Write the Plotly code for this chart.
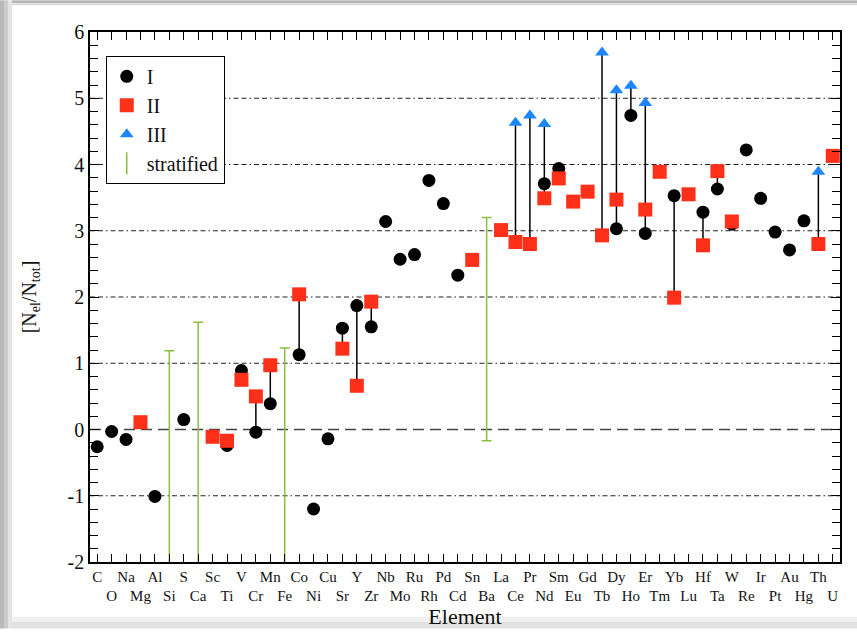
import plotly.graph_objects as go

ELEMENTS = ["C", "O", "Na", "Mg", "Al", "Si", "S", "Ca", "Sc", "Ti", "V", "Cr", "Mn", "Fe",
            "Co", "Ni", "Cu", "Sr", "Y", "Zr", "Nb", "Mo", "Ru", "Rh", "Pd", "Cd", "Sn", "Ba",
            "La", "Ce", "Pr", "Nd", "Sm", "Eu", "Gd", "Tb", "Dy", "Ho", "Er", "Tm", "Yb", "Lu",
            "Hf", "Ta", "W", "Re", "Ir", "Pt", "Au", "Hg", "Th", "U"]

N = None
ION_I = [-0.26, -0.03, -0.15, N, -1.01, N, 0.15, N, N, -0.24, 0.89, -0.04, 0.39, N,
         1.13, -1.20, -0.14, 1.53, 1.87, 1.55, 3.14, 2.57, 2.64, 3.76, 3.41, 2.33, N, N,
         N, N, N, 3.71, 3.94, N, N, N, 3.03, 4.74, 2.96, N, 3.53, N,
         3.28, 3.63, 3.10, 4.22, 3.49, 2.98, 2.71, 3.15, N, N]
ION_II = [N, N, N, 0.11, N, N, N, N, -0.11, -0.17, 0.75, 0.50, 0.97, N,
          2.04, N, N, 1.22, 0.66, 1.93, N, N, N, N, N, N, 2.56, N,
          3.01, 2.83, 2.80, 3.49, 3.79, 3.44, 3.59, 2.93, 3.47, N, 3.32, 3.89, 1.99, 3.55,
          2.78, 3.90, 3.14, N, N, N, N, N, 2.80, 4.13]
ION_III = [N, N, N, N, N, N, N, N, N, N, N, N, N, N,
           N, N, N, N, N, N, N, N, N, N, N, N, N, N,
           N, 4.63, 4.74, 4.61, N, N, N, 5.69, 5.12, 5.19, 4.93, N, N, N,
           N, N, N, N, N, N, N, N, 3.89, N]

STRAT_ELEMENTS = ["Si", "Ca", "Fe", "Ba"]
STRAT_TOP = [1.19, 1.62, 1.23, 3.20]
STRAT_BOTTOM = [-3.0, -3.0, -3.0, -0.17]

GRID_LEVELS = [-1, 1, 2, 3, 4, 5]
Y_TICKS = [-2, -1, 0, 1, 2, 3, 4, 5, 6]

SERIF = "Liberation Serif, Times New Roman, serif"
RED = "#FF3019"
BLUE = "#1C86FF"
GREEN = "#8CBF3F"

pos = list(range(1, len(ELEMENTS) + 1))
ticktext = [el if i % 2 == 0 else "<br>" + el for i, el in enumerate(ELEMENTS)]

# connectors between ionisation stages of the same element
cx, cy = [], []
for i, x in enumerate(pos):
    vals = [v for v in (ION_I[i], ION_II[i], ION_III[i]) if v is not None]
    if len(vals) > 1:
        cx += [x, x, None]
        cy += [min(vals), max(vals), None]

fig = go.Figure()
fig.add_trace(go.Scatter(x=cx, y=cy, mode="lines", line=dict(color="black", width=1.5),
                         showlegend=False, hoverinfo="skip"))

sx = [pos[ELEMENTS.index(e)] for e in STRAT_ELEMENTS]
fig.add_trace(go.Scatter(
    x=sx, y=STRAT_TOP, mode="markers", marker=dict(opacity=0, size=1),
    error_y=dict(type="data", symmetric=False, array=[0] * len(sx),
                 arrayminus=[t - b for t, b in zip(STRAT_TOP, STRAT_BOTTOM)],
                 color=GREEN, thickness=1.5, width=5),
    showlegend=False, legendgroup="strat"))

fig.add_trace(go.Scatter(x=pos, y=ION_I, mode="markers", name="I",
                         marker=dict(symbol="circle", size=13, color="black")))
fig.add_trace(go.Scatter(x=pos, y=ION_II, mode="markers", name="II",
                         marker=dict(symbol="square", size=14, color=RED)))
fig.add_trace(go.Scatter(x=pos, y=ION_III, mode="markers", name="III",
                         marker=dict(symbol="triangle-up", size=12, color=BLUE)))
fig.add_trace(go.Scatter(x=[None], y=[None], mode="markers", name="stratified",
                         legendgroup="strat",
                         marker=dict(symbol="line-ns", size=16, color=GREEN,
                                     line=dict(color=GREEN, width=1.5))))

shapes = []
# page shadow frame
def pxr(px):
    return (px - 90) / 750
def pyr(py):
    return (565 - py) / 533
for (x0, x1, col) in [(0, 4, "#b8b8b8"), (4, 8, "#cccccc"), (8, 12, "#e4e4e4")]:
    shapes.append(dict(type="rect", xref="paper", yref="paper", x0=pxr(x0), x1=pxr(x1),
                       y0=pyr(632), y1=pyr(0), fillcolor=col, line=dict(width=0), layer="below"))
for (y0, y1, col) in [(0, 3, "#b8b8b8"), (3, 5, "#dcdcdc")]:
    shapes.append(dict(type="rect", xref="paper", yref="paper", x0=pxr(12), x1=pxr(857),
                       y0=pyr(y1), y1=pyr(y0), fillcolor=col, line=dict(width=0), layer="below"))
for (y0, y1, col) in [(620, 625, "#f0f0f0"), (625, 632, "#e2e2e2")]:
    shapes.append(dict(type="rect", xref="paper", yref="paper", x0=pxr(12), x1=pxr(857),
                       y0=pyr(y1), y1=pyr(y0), fillcolor=col, line=dict(width=0), layer="below"))

for g in GRID_LEVELS:
    shapes.append(dict(type="line", xref="paper", yref="y", x0=0, x1=1, y0=g, y1=g,
                       line=dict(color="#222222", width=1, dash="5px,3px,5px,3px,1.5px,3px"),
                       layer="below"))
shapes.append(dict(type="line", xref="paper", yref="y", x0=0, x1=1, y0=0, y1=0,
                   line=dict(color="#444444", width=1.5, dash="11px,6px"), layer="below"))

fig.update_layout(
    width=857, height=632,
    margin=dict(l=90, r=17, t=32, b=67),
    paper_bgcolor="white", plot_bgcolor="white",
    shapes=shapes,
    font=dict(family=SERIF, color="#111111"),
    legend=dict(x=0.021, y=0.955, xanchor="left", yanchor="top",
                bordercolor="black", borderwidth=1, bgcolor="white",
                font=dict(family=SERIF, size=20, color="#111111"),
                tracegroupgap=0, itemwidth=30),
    xaxis=dict(range=[0.5, 52.5], tickmode="array", tickvals=pos, ticktext=ticktext,
               tickangle=0,
               ticks="inside", ticklen=8, tickwidth=1.2, tickcolor="black",
               showline=True, linecolor="black", linewidth=1.5, mirror="ticks",
               showgrid=False, zeroline=False,
               tickfont=dict(family=SERIF, size=15, color="#111111"),
               title=dict(text="Element", font=dict(family=SERIF, size=22, color="#111111"),
                          standoff=0)),
    yaxis=dict(range=[-2, 6], tickmode="array", tickvals=Y_TICKS,
               ticktext=[str(v) for v in Y_TICKS],
               ticks="inside", ticklen=9, tickwidth=1.2, tickcolor="black",
               minor=dict(dtick=0.2, ticks="inside", ticklen=8, tickwidth=1.2,
                          tickcolor="black", showgrid=False),
               showline=True, linecolor="black", linewidth=1.5, mirror="ticks",
               showgrid=False, zeroline=False,
               tickfont=dict(family=SERIF, size=20, color="#111111"),
               title=dict(text="[N<sub>el</sub>/N<sub>tot</sub>]",
                          font=dict(family=SERIF, size=20, color="#111111"), standoff=26)),
)

fig.write_html("out.html")
